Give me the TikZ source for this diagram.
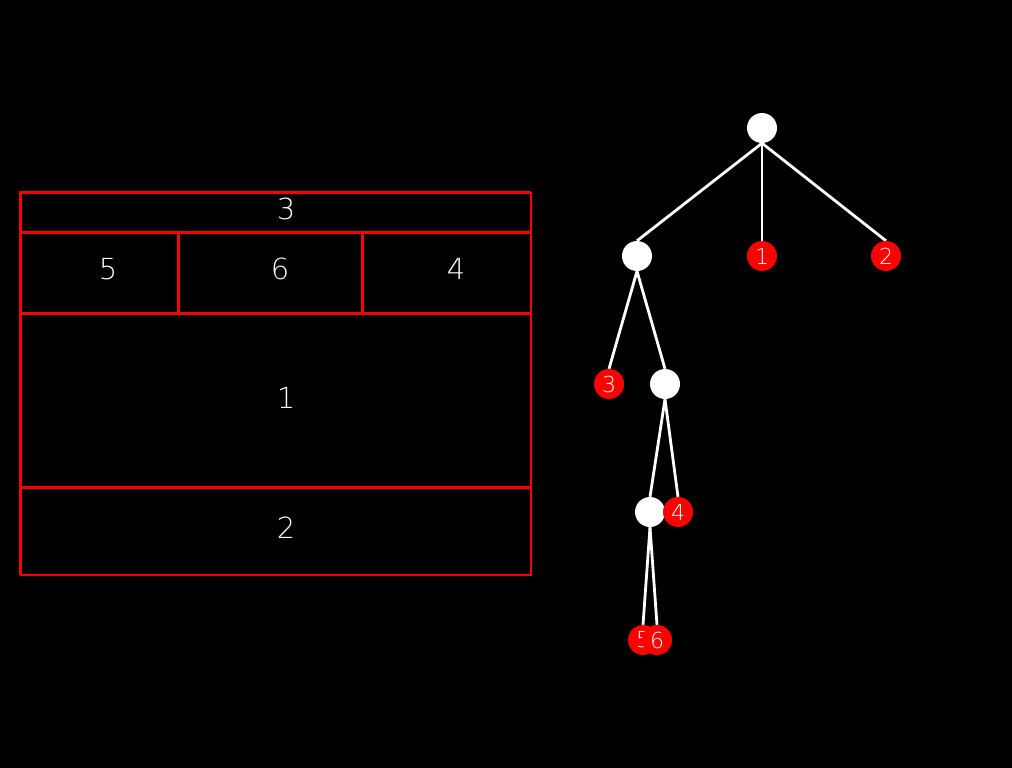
\documentclass[tikz,border=0pt]{standalone}
\usepackage{fontspec}
\usetikzlibrary{backgrounds}
\newfontfamily\labelfont{DejaVu Sans ExtraLight}
\begin{document}
\begin{tikzpicture}[x=1pt,y=-1pt,
  thickline/.style={draw=red,line width=3pt},
  thinline/.style={draw=red,line width=1.2pt},
  cell/.style={text=white,font=\labelfont\fontsize{29}{29}\selectfont,inner sep=0pt},
  inner/.style={circle,fill=white,minimum size=30pt,inner sep=0pt},
  leaf/.style={circle,fill=red,minimum size=30pt,inner sep=0pt,text=white,font=\labelfont\fontsize{22}{22}\selectfont},
  edge/.style={draw=white,line width=2.8pt}]
\useasboundingbox (0,0) rectangle (1012,768);

% ---- nested layout boxes ----
\coordinate (tl) at (20,192);
\coordinate (tr) at (531,192);
\coordinate (bl) at (20,575);
\coordinate (br) at (531,575);
\draw[thinline] (tr) -- (br) -- (bl);
\draw[thickline] (bl) -- (tl) -- (tr);
\draw[thickline] (20,232) -- (531,232);
\draw[thickline] (20,313) -- (531,313);
\draw[thickline] (20,487) -- (531,487);
\draw[thickline] (178,232) -- (178,313);
\draw[thickline] (362,232) -- (362,313);

\node[cell] (c3) at (286,209) {3};
\node[cell] (c5) at (108,269) {5};
\node[cell] (c6) at (280,269) {6};
\node[cell] (c4) at (456,269) {4};
\node[cell] (c1) at (286,398) {1};
\node[cell] (c2) at (286,528) {2};

% ---- tree ----
\node[inner] (r) at (762,128) {};
\node[inner] (a) at (637,256) {};
\node[leaf] (n1) at (762,256) {1};
\node[leaf] (n2) at (886,256) {2};
\node[leaf] (n3) at (609,384) {3};
\node[inner] (b) at (665,384) {};
\node[inner] (c) at (650,512) {};
\node[leaf] (n4) at (678,512) {4};
\node[leaf] (n5) at (643,640) {5};
\node[leaf] (n6) at (657,640) {6};

\begin{scope}[on background layer]
% canvas
\fill[black] (0,0) rectangle (1012,768);
\draw[edge] (r.south) -- (a.north);
\draw[edge] (r.south) -- (n1.north);
\draw[edge] (r.south) -- (n2.north);
\draw[edge] (a.south) -- (n3.north);
\draw[edge] (a.south) -- (b.north);
\draw[edge] (b.south) -- (c.north);
\draw[edge] (b.south) -- (n4.north);
\draw[edge] (c.south) -- (n5.north);
\draw[edge] (c.south) -- (n6.north);
\end{scope}
\end{tikzpicture}
\end{document}
